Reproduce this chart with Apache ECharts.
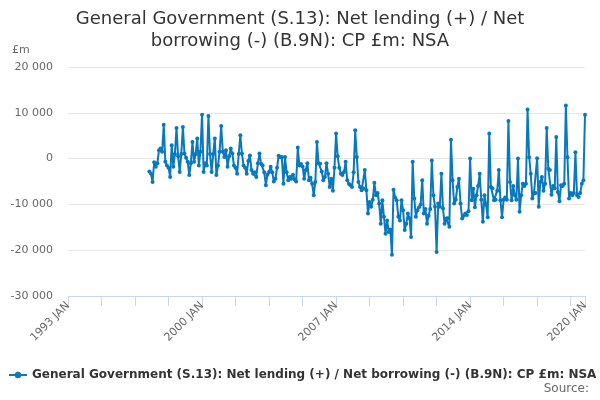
<!DOCTYPE html>
<html>
<head>
<meta charset="utf-8">
<script src="https://cdn.jsdelivr.net/npm/echarts@6/dist/echarts.min.js"></script>
<style>
html,body{margin:0;padding:0;background:#fff;}
#chart{width:600px;height:400px;}
</style>
</head>
<body>
<div id="chart"></div>
<script>
// Category range
const firstYear = 1993;
const lastYear = 2020;
const monthNames = ['JAN','FEB','MAR','APR','MAY','JUN','JUL','AUG','SEP','OCT','NOV','DEC'];
// Series starts 1997 APR (index 51 from 1993 JAN)
const seriesStart = '1997 APR';
// Monthly values, £m, 1997 APR .. 2020 JAN
const netLending = [
  -2800,-3300,-5100,-800,-1800,-1000,1800,2200,1500,            // 1997 APR-DEC
  7400,-700,-1500,-2000,-4000,2900,-1800,1000,6700,500,-2900,1000, // 1998
  6900,1100,200,-700,-3600,-1000,3600,-700,1000,4400,-1500,1500,   // 1999
  9600,-2900,-1000,-1500,9300,1000,-2900,1000,4400,-3600,-1500,1500, // 2000
  7100,1500,350,1800,-1800,500,2200,1100,-1500,-2000,-3300,1000,   // 2001
  5100,1100,-1500,-2000,-3300,-500,700,-2500,-3300,-3000,-4000,-1000, // 2002
  1100,-1100,-1500,-3000,-5800,-3500,-2900,-1800,-3000,-5000,-4400,-2000, // 2003
  600,300,350,-5500,350,-3000,-4700,-4000,-4400,-3500,-4500,-5000, // 2004
  2400,-1500,-1200,-1700,-4400,-2500,-1000,-4700,-4200,-5500,-8000,-5100, // 2005
  3600,-1000,-1100,-2800,-4700,-4000,-1000,-3300,-6200,-4400,-7000,-2000, // 2006
  5500,500,-2000,-3300,-3600,-2900,-700,-4700,-5500,-5800,-6200,-3000, // 2007
  6200,350,-5100,-6200,-6900,-6500,-2500,-6900,-12000,-9500,-10500,-9000, // 2008
  -5300,-8000,-7500,-9800,-14200,-9100,-12700,-16400,-13500,-16000,-15500,-21000, // 2009
  -6800,-8500,-9100,-12700,-13500,-9100,-11300,-15600,-14200,-12000,-13000,-17100, // 2010
  -700,-8700,-12700,-11300,-10600,-10000,-4700,-12000,-11000,-14200,-12500,-11000, // 2011
  -400,-8000,-10500,-20400,-9800,-10500,-3300,-10900,-14200,-13100,-13000,-14900, // 2012
  4100,-4700,-9800,-9000,-6200,-4400,-9800,-13100,-12500,-12000,-12300,-11500, // 2013
  0,-9100,-6600,-10600,-8000,-6000,-3300,-9000,-13800,-8000,-10000,-12800, // 2014
  5500,-6200,-6500,-9100,-9000,-7000,-2500,-9100,-12800,-9000,-8500,-9000, // 2015
  8200,-5100,-9100,-6000,-8000,-9000,0,-11600,-8000,-5500,-6000,-5500, // 2016
  10700,300,-3300,-8700,-7600,-7500,100,-10500,-5100,-4000,-7000,-5500, // 2017
  6700,-2200,-2500,-7900,-6000,-6500,4700,-7300,-9300,-5800,-6000,-5500, // 2018
  11600,300,-8700,-7500,-8000,-7500,1400,-8000,-8400,-7500,-5500,-4700, // 2019
  9600 // 2020 JAN
];
const yTicks = [-30000,-20000,-10000,0,10000,20000];
const seriesName = 'General Government (S.13): Net lending (+) / Net borrowing (-) (B.9N): CP £m: NSA';
const titleText = 'General Government (S.13): Net lending (+) / Net\nborrowing (-) (B.9N): CP £m: NSA';

const categories = [];
for (let y = firstYear; y <= lastYear; y++) {
  for (let m = 0; m < 12; m++) {
    if (y === lastYear && m > 0) break;
    categories.push(y + ' ' + monthNames[m]);
  }
}
const startIdx = categories.indexOf(seriesStart);
const seriesData = categories.map((c, i) => {
  const k = i - startIdx;
  return (k >= 0 && k < netLending.length) ? netLending[k] : null;
});
const lastIdx = categories.length - 1;

const fmt = v => String(v).replace(/\B(?=(\d{3})+(?!\d))/g, ' ');
const FONT = 'DejaVu Sans';
const color = '#0a78bd';

const chart = echarts.init(document.getElementById('chart'), null, {renderer: 'canvas'});
chart.setOption({
  animation: false,
  textStyle: {fontFamily: FONT},
  title: {
    text: titleText,
    left: 'center',
    top: 3,
    textStyle: {fontFamily: FONT, fontSize: 18, fontWeight: 'normal', color: '#333333', lineHeight: 22}
  },
  graphic: [
    {type: 'text', left: 12, top: 45, style: {text: '£m', font: '11px "DejaVu Sans"', fill: '#666666'}},
    {type: 'text', right: 11, top: 383, style: {text: 'Source:', font: '12px "DejaVu Sans"', fill: '#666666'}}
  ],
  legend: {
    left: 3,
    top: 364,
    itemWidth: 18,
    itemHeight: 8,
    itemGap: 5,
    textStyle: {fontFamily: FONT, fontSize: 12, fontWeight: 'bold', color: '#333333'},
    data: [seriesName]
  },
  grid: {left: 68, right: 15, top: 67, bottom: 104, containLabel: false},
  xAxis: {
    type: 'category',
    data: categories,
    boundaryGap: false,
    axisLine: {show: true, onZero: false, lineStyle: {color: '#ccd6eb', width: 1}},
    axisTick: {
      show: true,
      length: 10,
      interval: (i) => i % 21 === 0 || i === lastIdx,
      lineStyle: {color: '#ccd6eb'}
    },
    axisLabel: {
      interval: (i) => i % 84 === 0 || i === lastIdx,
      rotate: 45,
      margin: 8,
      fontFamily: FONT,
      fontSize: 11,
      color: '#666666'
    },
    splitLine: {show: false}
  },
  yAxis: {
    type: 'value',
    min: yTicks[0],
    max: yTicks[yTicks.length - 1],
    interval: 10000,
    axisLine: {show: false},
    axisTick: {show: false},
    axisLabel: {formatter: fmt, fontFamily: FONT, fontSize: 11, color: '#666666', margin: 15},
    splitLine: {lineStyle: {color: '#e6e6e6'}}
  },
  series: [{
    name: seriesName,
    type: 'line',
    data: seriesData,
    connectNulls: false,
    symbol: 'circle',
    symbolSize: 4,
    showAllSymbol: true,
    lineStyle: {color: color, width: 2},
    itemStyle: {color: color},
    emphasis: {disabled: true}
  }]
});
</script>
</body>
</html>
